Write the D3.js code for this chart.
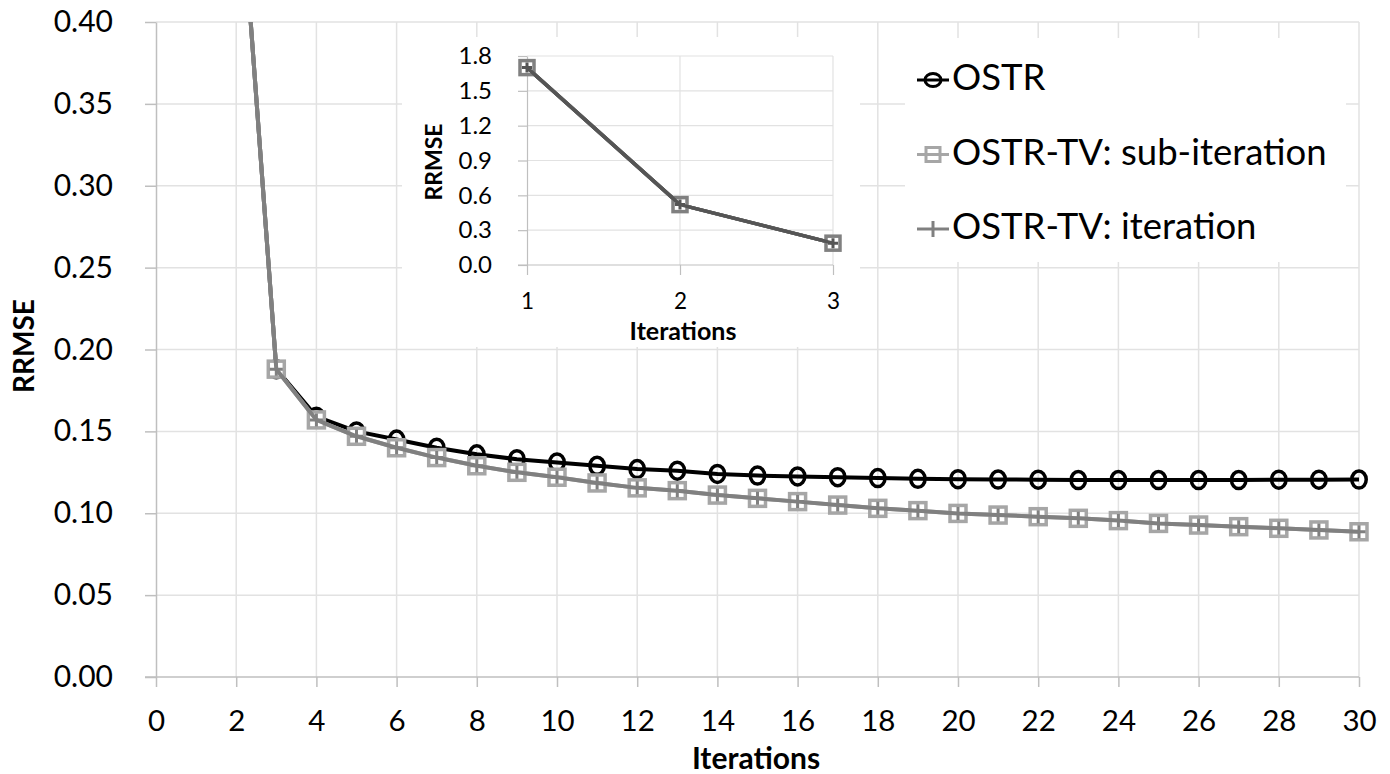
<!DOCTYPE html>
<html>
  <head>
    <title>RRMSE vs Iterations</title>
    <script src="https://d3js.org/d3.v7.min.js"></script>
    <style>
      body { margin: 0; background: #fff; }
      text { font-family: Lato, "Open Sans", sans-serif; }
    </style>
  </head>
  <body>
    <div id="chart"></div>
    <script>
      // Data
      const iterations = [1, 2, 3, 4, 5, 6, 7, 8, 9, 10, 11, 12, 13, 14, 15,
        16, 17, 18, 19, 20, 21, 22, 23, 24, 25, 26, 27, 28, 29, 30];
      const ostrValues = [1.70, 0.52, 0.188, 0.159, 0.150, 0.145, 0.140, 0.136, 0.133, 0.131,
        0.129, 0.127, 0.126, 0.124, 0.123, 0.1225, 0.122, 0.1215, 0.121, 0.1208,
        0.1206, 0.1205, 0.1203, 0.1203, 0.1203, 0.1203, 0.1203, 0.1205, 0.1205, 0.1206];
      const tvSubValues = [1.70, 0.52, 0.188, 0.157, 0.147, 0.140, 0.134, 0.129, 0.125, 0.122,
        0.1185, 0.1155, 0.1138, 0.1111, 0.1091, 0.1071, 0.1050, 0.1030, 0.1016, 0.0999,
        0.0989, 0.0979, 0.0969, 0.0955, 0.0938, 0.0928, 0.0918, 0.0908, 0.0898, 0.0887];
      const tvIterValues = [1.70, 0.52, 0.188, 0.157, 0.147, 0.140, 0.134, 0.129, 0.125, 0.122,
        0.1185, 0.1155, 0.1138, 0.1111, 0.1091, 0.1071, 0.1050, 0.1030, 0.1016, 0.0999,
        0.0989, 0.0979, 0.0969, 0.0955, 0.0938, 0.0928, 0.0918, 0.0908, 0.0898, 0.0887];
      const seriesNames = ['OSTR', 'OSTR-TV: sub-iteration', 'OSTR-TV: iteration'];

      const xTicks = [0, 2, 4, 6, 8, 10, 12, 14, 16, 18, 20, 22, 24, 26, 28, 30];
      const yTicks = [0, 0.05, 0.10, 0.15, 0.20, 0.25, 0.30, 0.35, 0.40];
      const insetIterations = [1, 2, 3];
      const insetYTicks = [0, 0.3, 0.6, 0.9, 1.2, 1.5, 1.8];

      const width = 1390, height = 774;
      const gridColor = '#e2e2e2', axisColor = '#bfbfbf';
      const black = '#000', lightGray = '#a6a6a6', darkGray = '#808080';

      const svg = d3.select('#chart').append('svg')
        .attr('width', width)
        .attr('height', height);

      svg.append('defs').append('clipPath').attr('id', 'plotClip')
        .append('rect').attr('x', 100).attr('y', 22).attr('width', 1290).attr('height', 700);

      // main scales
      const x = d3.scaleLinear().domain([0, 30]).range([156, 1359]);
      const y = d3.scaleLinear().domain([0, 0.4]).range([677, 22]);

      // gridlines
      svg.append('g').selectAll('line')
        .data(yTicks.slice(1))
        .enter().append('line')
        .attr('x1', x(0)).attr('x2', x(30))
        .attr('y1', d => y(d)).attr('y2', d => y(d))
        .attr('stroke', gridColor).attr('stroke-width', 1.5);
      svg.append('g').selectAll('line')
        .data(xTicks.slice(1))
        .enter().append('line')
        .attr('x1', d => x(d)).attr('x2', d => x(d))
        .attr('y1', y(0)).attr('y2', y(0.4))
        .attr('stroke', gridColor).attr('stroke-width', 1.5);

      // axes
      const yAxis = svg.append('g')
        .attr('transform', 'translate(' + x(0) + ',0)')
        .call(d3.axisLeft(y).tickValues(yTicks).tickFormat(d3.format('.2f'))
          .tickSize(11).tickPadding(32).tickSizeOuter(0));
      const xAxis = svg.append('g')
        .attr('transform', 'translate(0,' + y(0) + ')')
        .call(d3.axisBottom(x).tickValues(xTicks).tickFormat(d3.format('d'))
          .tickSize(10).tickPadding(23).tickSizeOuter(0));
      [xAxis, yAxis].forEach(a => {
        a.select('.domain').attr('stroke', axisColor).attr('stroke-width', 1.5);
        a.selectAll('.tick line').attr('stroke', axisColor).attr('stroke-width', 1.5);
        a.selectAll('.tick text').attr('font-size', 30).attr('fill', black)
          .style('font-family', 'Lato, sans-serif');
      });
      xAxis.selectAll('.tick text').attr('font-size', 29.5);
      xAxis.select('.domain').attr('d', 'M' + (x(0) - 11) + ',0H' + x(30));

      // axis titles
      svg.append('text')
        .attr('transform', 'translate(34,346) rotate(-90)')
        .attr('text-anchor', 'middle')
        .attr('font-size', 28).attr('font-weight', 'bold')
        .text('RRMSE');
      svg.append('text')
        .attr('x', 756).attr('y', 769)
        .attr('text-anchor', 'middle')
        .attr('font-size', 30).attr('font-weight', 'bold')
        .text('Iterations');

      const line = d3.line();
      const plot = svg.append('g').attr('clip-path', 'url(#plotClip)');

      function plotSeries(g, xs, ys, xs0, values, style) {
        const pts = values.map((v, i) => [xs(xs0[i]), ys(v)]);
        g.append('path')
          .attr('d', line(pts))
          .attr('fill', 'none')
          .attr('stroke', style.color)
          .attr('stroke-width', style.width)
          .attr('stroke-linejoin', 'round');
        const m = g.append('g').selectAll('g')
          .data(pts)
          .enter().append('g')
          .attr('transform', d => 'translate(' + d[0] + ',' + d[1] + ')');
        drawMarker(m, style);
      }

      function drawMarker(sel, style) {
        const s = style.size;
        if (style.marker === 'circle') {
          sel.append('ellipse').attr('rx', s * 0.85).attr('ry', s)
            .attr('fill', 'none').attr('stroke', style.color).attr('stroke-width', 3.5);
        } else if (style.marker === 'square') {
          sel.append('rect').attr('x', -s).attr('y', -s).attr('width', 2 * s).attr('height', 2 * s)
            .attr('fill', '#fff').attr('stroke', style.color).attr('stroke-width', 3.5);
        } else if (style.marker === 'plus') {
          sel.append('path').attr('d', 'M' + (-s) + ',0H' + s + 'M0,' + (-s) + 'V' + s)
            .attr('stroke', style.color).attr('stroke-width', 3);
        }
      }

      const styles = [
        { color: black, width: 4, marker: 'circle', size: 8.5 },
        { color: lightGray, width: 4, marker: 'square', size: 8 },
        { color: darkGray, width: 4, marker: 'plus', size: 6.5 }
      ];

      plotSeries(plot, x, y, iterations, ostrValues, styles[0]);
      plotSeries(plot, x, y, iterations, tvSubValues, styles[1]);
      plotSeries(plot, x, y, iterations, tvIterValues, styles[2]);

      // inset
      const inset = svg.append('g');
      inset.append('rect')
        .attr('x', 402).attr('y', 37).attr('width', 458).attr('height', 310)
        .attr('fill', '#fff');
      const xi = d3.scaleLinear().domain([1, 3]).range([527, 833]);
      const yi = d3.scaleLinear().domain([0, 1.8]).range([265, 56]);

      inset.append('g').selectAll('line')
        .data(insetYTicks.slice(1))
        .enter().append('line')
        .attr('x1', xi(1)).attr('x2', xi(3))
        .attr('y1', d => yi(d)).attr('y2', d => yi(d))
        .attr('stroke', gridColor).attr('stroke-width', 1.2);
      inset.append('g').selectAll('line')
        .data(insetIterations.slice(1))
        .enter().append('line')
        .attr('x1', d => xi(d)).attr('x2', d => xi(d))
        .attr('y1', yi(0)).attr('y2', yi(1.8))
        .attr('stroke', gridColor).attr('stroke-width', 1.2);

      const yiAxis = inset.append('g')
        .attr('transform', 'translate(' + xi(1) + ',0)')
        .call(d3.axisLeft(yi).tickValues(insetYTicks).tickFormat(d3.format('.1f'))
          .tickSize(9).tickPadding(26).tickSizeOuter(0));
      const xiAxis = inset.append('g')
        .attr('transform', 'translate(0,' + yi(0) + ')')
        .call(d3.axisBottom(xi).tickValues(insetIterations).tickFormat(d3.format('d'))
          .tickSize(10).tickPadding(18).tickSizeOuter(0));
      [xiAxis, yiAxis].forEach(a => {
        a.select('.domain').attr('stroke', axisColor).attr('stroke-width', 1.2);
        a.selectAll('.tick line').attr('stroke', axisColor).attr('stroke-width', 1.2);
        a.selectAll('.tick text').attr('font-size', 24).attr('fill', black)
          .style('font-family', 'Lato, sans-serif');
      });
      xiAxis.selectAll('.tick text').attr('font-size', 22.5);
      xiAxis.select('.domain').attr('d', 'M' + (xi(1) - 9) + ',0H' + xi(3));

      inset.append('text')
        .attr('transform', 'translate(442,162) rotate(-90)')
        .attr('text-anchor', 'middle')
        .attr('font-size', 23).attr('font-weight', 'bold')
        .text('RRMSE');
      inset.append('text')
        .attr('x', 683).attr('y', 340)
        .attr('text-anchor', 'middle')
        .attr('font-size', 25).attr('font-weight', 'bold')
        .text('Iterations');

      const insetStyles = [
        { color: black, width: 3.5, marker: 'circle', size: 6 },
        { color: darkGray, width: 3.5, marker: 'square', size: 7 },
        { color: '#555', width: 3.5, marker: 'plus', size: 5 }
      ];
      plotSeries(inset, xi, yi, insetIterations, ostrValues.slice(0, 3), insetStyles[0]);
      plotSeries(inset, xi, yi, insetIterations, tvSubValues.slice(0, 3), insetStyles[1]);
      plotSeries(inset, xi, yi, insetIterations, tvIterValues.slice(0, 3), insetStyles[2]);

      // legend
      const legend = svg.append('g');
      legend.append('rect')
        .attr('x', 905).attr('y', 38).attr('width', 441).attr('height', 224)
        .attr('fill', '#fff');
      const legendColors = [black, lightGray, darkGray];
      seriesNames.forEach((name, i) => {
        const cy = 80 + i * 74.5;
        const item = legend.append('g');
        item.append('line')
          .attr('x1', 917).attr('x2', 949).attr('y1', cy).attr('y2', cy)
          .attr('stroke', legendColors[i]).attr('stroke-width', 3);
        const m = item.append('g').attr('transform', 'translate(933,' + cy + ')');
        if (i === 1) {
          m.append('rect').attr('x', -7).attr('y', -7).attr('width', 14).attr('height', 14)
            .attr('fill', 'none').attr('stroke', lightGray).attr('stroke-width', 3);
        } else if (i === 0) {
          m.append('ellipse').attr('rx', 8).attr('ry', 6.5)
            .attr('fill', 'none').attr('stroke', black).attr('stroke-width', 3);
        } else {
          m.append('path').attr('d', 'M0,-8V8')
            .attr('stroke', darkGray).attr('stroke-width', 3);
        }
        item.append('text')
          .attr('x', 952).attr('y', cy + 10)
          .attr('font-size', 36.5)
          .attr('fill', black)
          .text(name);
      });
    </script>
  </body>
</html>
